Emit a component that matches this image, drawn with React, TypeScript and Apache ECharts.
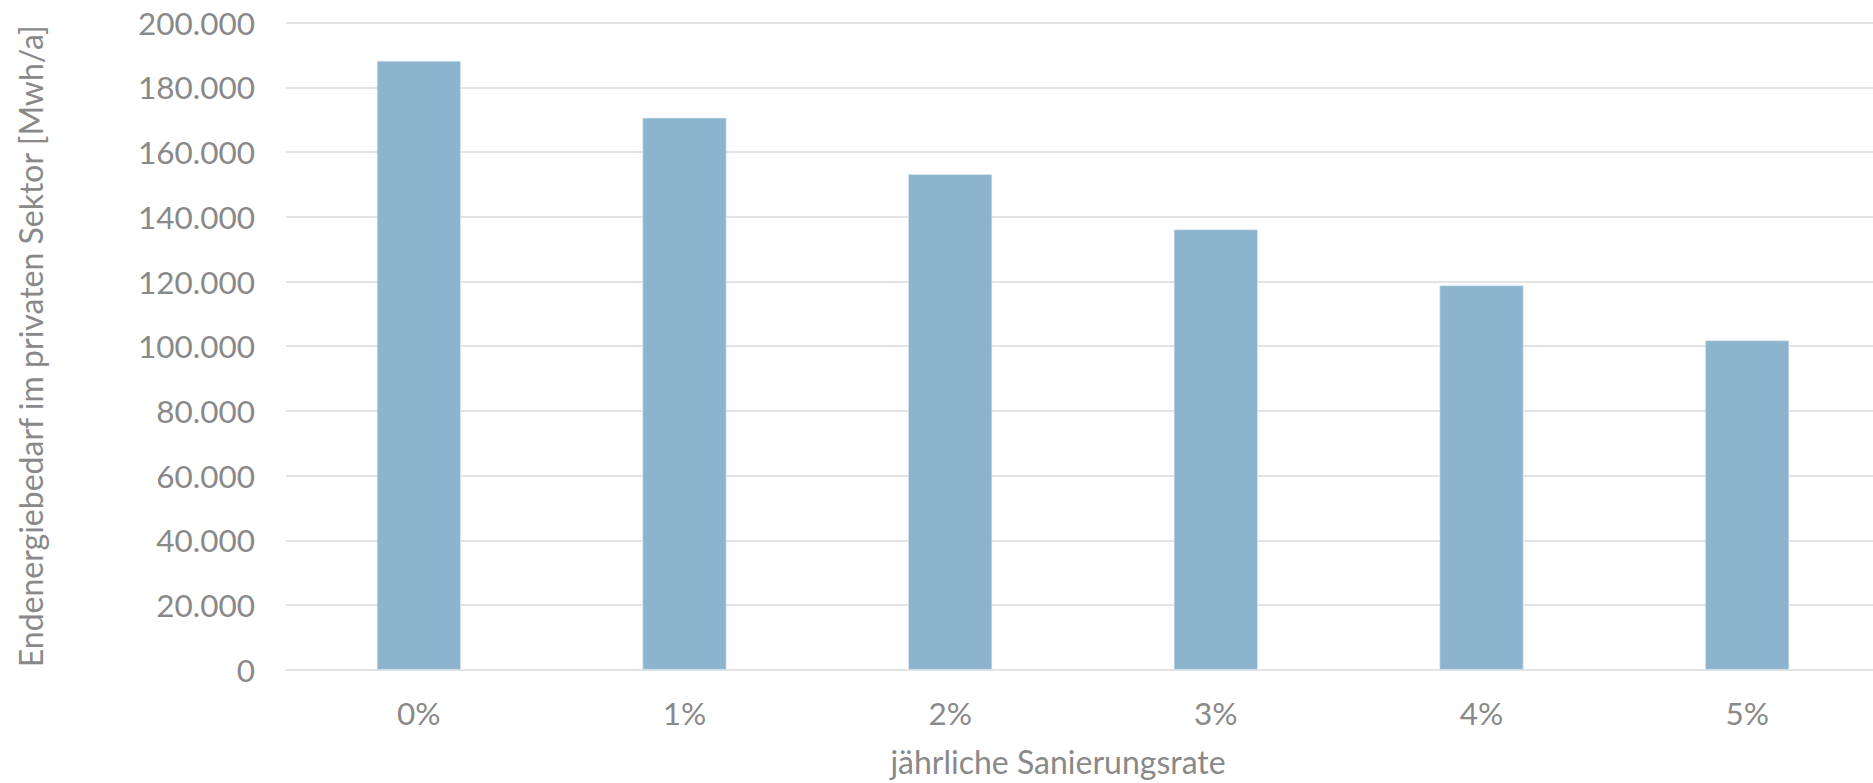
import React, { useEffect, useRef } from "react";
import * as echarts from "echarts";

const categories = ["0%", "1%", "2%", "3%", "4%", "5%"];
const values = [188200, 170600, 153200, 136100, 118800, 101800];
const yTicks = { min: 0, max: 200000, interval: 20000 };
const yAxisTitle = "Endenergiebedarf im privaten Sektor [Mwh/a]";
const xAxisTitle = "jährliche Sanierungsrate";

const TEXT = "#898989";
const GRID = "#e4e4e4";
const BAR = "#8db4cf";
const FONT = "Lato, 'Open Sans', sans-serif";

function fmt(v: number): string {
  return String(v).replace(/\B(?=(\d{3})+(?!\d))/g, ".");
}

export default function App() {
  const ref = useRef<HTMLDivElement>(null);
  useEffect(() => {
    if (!ref.current) return;
    const chart = echarts.init(ref.current, undefined, { renderer: "svg" });
    chart.setOption({
      animation: false,
      backgroundColor: "#ffffff",
      title: {
        text: xAxisTitle,
        left: 1058,
        top: 745,
        textAlign: "center",
        padding: 0,
        textStyle: { color: TEXT, fontSize: 32, fontWeight: "normal", fontFamily: FONT },
      },
      grid: { left: 286, right: 0, top: 22.7, bottom: 113.3, containLabel: false },
      xAxis: {
        type: "category",
        data: categories,
        axisLine: { show: true, lineStyle: { color: GRID, width: 2 } },
        axisTick: { show: false },
        axisLabel: { color: TEXT, fontSize: 31.5, fontFamily: FONT, margin: 27 },
        splitLine: { show: false },
      },
      yAxis: {
        type: "value",
        min: yTicks.min,
        max: yTicks.max,
        interval: yTicks.interval,
        name: yAxisTitle,
        nameLocation: "middle",
        nameRotate: 90,
        nameGap: 240,
        nameTextStyle: { color: TEXT, fontSize: 32, fontFamily: FONT },
        axisLine: { show: false },
        axisTick: { show: false },
        axisLabel: {
          color: TEXT,
          fontSize: 31.5,
          fontFamily: FONT,
          margin: 31,
          formatter: (v: number) => fmt(v),
        },
        splitLine: { show: true, lineStyle: { color: GRID, width: 2 } },
      },
      series: [
        {
          type: "bar",
          data: values,
          barWidth: "31.6%",
          itemStyle: { color: BAR, borderColor: "#dbe8f1", borderWidth: 0.6 },
        },
      ],
    });
    return () => chart.dispose();
  }, []);
  return (
    <div style={{ position: "absolute", left: 0, top: 0, width: 1873, height: 783, overflow: "hidden", background: "#fff" }}>
      <div ref={ref} style={{ position: "absolute", left: 0, top: 0, width: 1880, height: 783 }} />
    </div>
  );
}
